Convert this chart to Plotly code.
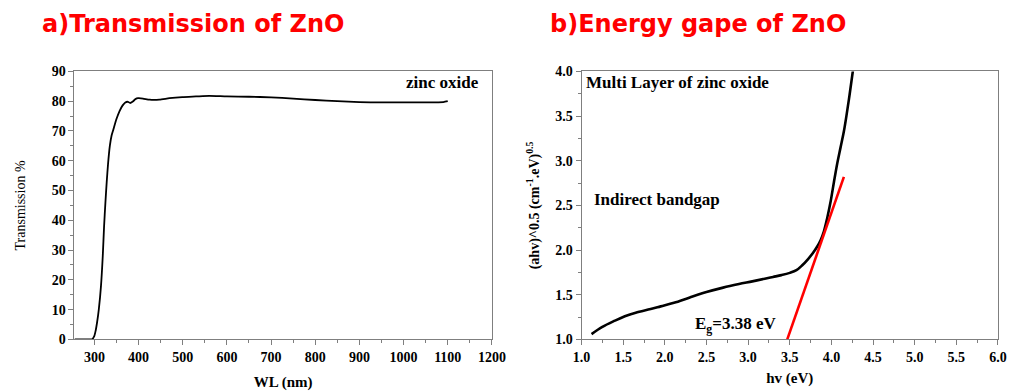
import plotly.graph_objects as go

# ---- data: a) transmission ----
wl_nm = [255, 290, 295, 300, 303, 306, 310, 315, 319, 322, 325, 328, 331, 335, 339, 343,
         350, 357, 364, 370, 376, 381, 387, 393, 399, 410, 425, 447, 470, 499, 530, 560,
         600, 650, 700, 750, 800, 850, 900, 950, 1000, 1050, 1090, 1100]
trans = [0, 0, 0.1, 1.2, 3, 5.6, 10, 18, 28, 38, 46, 53, 59, 65, 68.5, 70.5,
         74, 76.7, 78.6, 79.6, 79.8, 79.4, 79.9, 80.7, 81.0, 80.9, 80.5, 80.5, 81.0, 81.4, 81.6, 81.8,
         81.6, 81.5, 81.3, 80.9, 80.4, 80.0, 79.7, 79.6, 79.6, 79.6, 79.7, 80.0]

# ---- data: b) energy gap ----
hv_ev = [1.12, 1.25, 1.40, 1.52, 1.65, 1.83, 1.95, 2.11, 2.30, 2.50, 2.70, 2.89, 3.05, 3.20,
         3.30, 3.40, 3.50, 3.58, 3.65, 3.72, 3.78, 3.83, 3.87, 3.91, 3.95, 3.99, 4.03, 4.07,
         4.11, 4.15, 4.18, 4.22, 4.26]
ahv = [1.06, 1.14, 1.21, 1.26, 1.30, 1.34, 1.37, 1.41, 1.47, 1.53, 1.58, 1.62, 1.65, 1.68,
       1.70, 1.72, 1.745, 1.775, 1.83, 1.90, 1.97, 2.04, 2.11, 2.21, 2.36, 2.54, 2.76, 2.97,
       3.15, 3.33, 3.50, 3.75, 4.02]
fit_x = [3.47, 4.15]
fit_y = [1.0, 2.82]

SERIF = "Liberation Serif"
FRAME = "#7f7f7f"

fig = go.Figure()
fig.add_trace(go.Scatter(x=wl_nm, y=trans, mode="lines", line=dict(color="black", width=1.8, shape="spline", smoothing=0.6),
                         xaxis="x", yaxis="y", showlegend=False))
fig.add_trace(go.Scatter(x=hv_ev, y=ahv, mode="lines", line=dict(color="black", width=2.6, shape="spline", smoothing=1.0),
                         xaxis="x2", yaxis="y2", showlegend=False))
fig.add_trace(go.Scatter(x=fit_x, y=fit_y, mode="lines", line=dict(color="#ff0000", width=2.6),
                         xaxis="x2", yaxis="y2", showlegend=False))

tickfont = dict(family=SERIF, size=14, color="black", weight="bold")
common = dict(showline=True, linecolor=FRAME, linewidth=1, mirror=True, ticks="outside",
              ticklen=5, tickcolor=FRAME, tickwidth=1, showgrid=False, zeroline=False,
              tickfont=tickfont, tickprefix="<b>", ticksuffix="</b>")

ydom = [45.3 / 391, 324 / 391]
fig.update_layout(
    width=1024, height=391, margin=dict(l=0, r=0, t=0, b=0),
    paper_bgcolor="white", plot_bgcolor="white",
    xaxis=dict(domain=[67 / 1024, 494 / 1024], range=[255, 1200], tickmode="linear", tick0=300, dtick=100,
               minor=dict(dtick=50, ticklen=3, tickcolor=FRAME, ticks="outside"),
               title=dict(text="<b>WL (nm)</b>", font=dict(family=SERIF, size=15, color="black"), standoff=12),
               anchor="y", **common),
    yaxis=dict(domain=ydom, range=[0, 90], dtick=10,
               minor=dict(dtick=5, ticklen=3, tickcolor=FRAME, ticks="outside"),
               title=dict(text="Transmission %", font=dict(family=SERIF, size=14, color="black"), standoff=22),
               anchor="x", **common),
    xaxis2=dict(domain=[585.7 / 1024, 1011.7 / 1024], range=[1.0, 6.0], dtick=0.5, tickformat=".1f",
                minor=dict(dtick=0.25, ticklen=3, tickcolor=FRAME, ticks="outside"),
                title=dict(text="<b>hv (eV)</b>", font=dict(family=SERIF, size=15, color="black"), standoff=8),
                anchor="y2", **common),
    yaxis2=dict(domain=ydom, range=[1.0, 4.0], dtick=0.5, tickformat=".1f",
                minor=dict(dtick=0.25, ticklen=3, tickcolor=FRAME, ticks="outside"),
                title=dict(text="<b>(ahv)^0.5 (cm<sup>-1</sup>.eV)<sup>0.5</sup></b>",
                           font=dict(family=SERIF, size=14, color="black"), standoff=12),
                anchor="x2", **common),
)

ann_font = dict(family=SERIF, size=17, color="black")
title_font = dict(family="DejaVu Sans", size=24, color="#ff0000")
fig.add_annotation(text="<b>a)Transmission of ZnO</b>", xref="paper", yref="paper", x=32 / 1024, y=1 - 18 / 391,
                   xanchor="left", yanchor="middle", showarrow=False, font=title_font)
fig.add_annotation(text="<b>b)Energy gape of ZnO</b>", xref="paper", yref="paper", x=551 / 1024, y=1 - 18 / 391,
                   xanchor="left", yanchor="middle", showarrow=False, font=title_font)
fig.add_annotation(text="<b>zinc oxide</b>", xref="paper", yref="paper", x=483 / 1024, y=1 - 78 / 391,
                   xanchor="right", yanchor="middle", showarrow=False, font=ann_font)
fig.add_annotation(text="<b>Multi Layer of zinc oxide</b>", xref="paper", yref="paper", x=588 / 1024,
                   y=1 - 78 / 391, xanchor="left", yanchor="middle", showarrow=False, font=ann_font)
fig.add_annotation(text="<b>Indirect bandgap</b>", xref="paper", yref="paper", x=596 / 1024, y=1 - 200 / 391,
                   xanchor="left", yanchor="middle", showarrow=False, font=ann_font)
fig.add_annotation(text="<b>E<sub>g</sub>=3.38 eV</b>", xref="paper", yref="paper", x=700 / 1024,
                   y=1 - 331 / 391, xanchor="left", yanchor="middle", showarrow=False, font=ann_font)

fig.write_html("out.html")
